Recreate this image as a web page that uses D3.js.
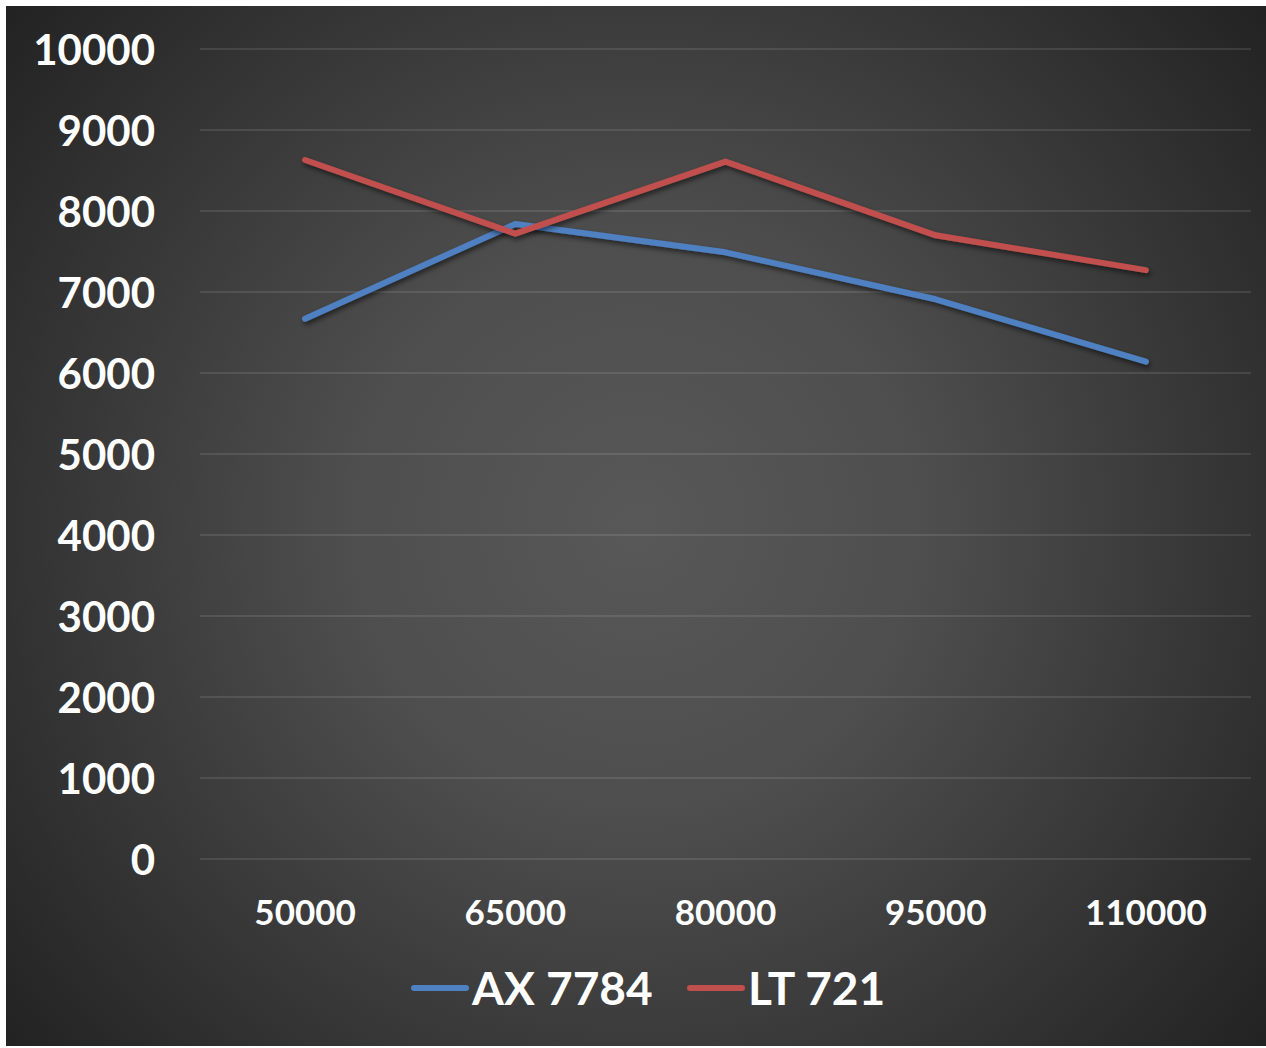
<!DOCTYPE html>
<html>
<head>
<meta charset="utf-8">
<script src="https://cdn.jsdelivr.net/npm/d3@7"></script>
<style>
  html, body { margin: 0; padding: 0; background: #ffffff; }
  svg { display: block; }
  text { font-family: Lato, "Open Sans", sans-serif; font-weight: 700; fill: #ffffff; }
</style>
</head>
<body>
<svg id="chart" width="1266" height="1048"></svg>
<script>
// Categories along the x axis
const categories = ["50000", "65000", "80000", "95000", "110000"];
// Series values
const seriesNames = ["AX 7784", "LT 721"];
const ax7784 = [6670, 7840, 7490, 6910, 6140];
const lt721 = [8630, 7720, 8610, 7700, 7270];
const seriesColors = ["#4f81c2", "#c0504d"];
// Y tick values
const yTicks = [0, 1000, 2000, 3000, 4000, 5000, 6000, 7000, 8000, 9000, 10000];

const svg = d3.select("#chart");
const W = 1266, H = 1048;

const defs = svg.append("defs");
const grad = defs.append("radialGradient")
  .attr("id", "bg")
  .attr("gradientUnits", "userSpaceOnUse")
  .attr("cx", 636).attr("cy", 526).attr("r", 820);
grad.append("stop").attr("offset", "0").attr("stop-color", "#585858");
grad.append("stop").attr("offset", "0.35").attr("stop-color", "#4e4e4e");
grad.append("stop").attr("offset", "1").attr("stop-color", "#222222");

const shadow = defs.append("filter").attr("id", "shadow")
  .attr("x", "-10%").attr("y", "-10%").attr("width", "120%").attr("height", "140%");
shadow.append("feDropShadow")
  .attr("dx", 1.5).attr("dy", 3).attr("stdDeviation", 2.5)
  .attr("flood-color", "#000").attr("flood-opacity", 0.55);

// Chart area
svg.append("rect").attr("x", 6).attr("y", 6).attr("width", W - 6).attr("height", H - 8)
  .attr("fill", "url(#bg)");

const x = d3.scaleBand().domain(categories).range([200, 1251]);
const y = d3.scaleLinear().domain([0, 10000]).range([859, 49]);

// Gridlines
svg.append("g").selectAll("line").data(yTicks).join("line")
  .attr("x1", 200).attr("x2", 1251)
  .attr("y1", d => y(d)).attr("y2", d => y(d))
  .attr("stroke", "#ffffff").attr("stroke-opacity", 0.1).attr("stroke-width", 2);

// Y axis labels
const yAxis = d3.axisLeft(y).tickValues(yTicks).tickSize(0).tickPadding(0).tickFormat(d3.format("d"));
const gy = svg.append("g").attr("transform", "translate(155,0)").call(yAxis);
gy.select(".domain").remove();
gy.selectAll("text").attr("font-size", 42).attr("fill", "#ffffff")
  .attr("font-family", "Lato").attr("dy", "0.36em");

// X axis labels
const xAxis = d3.axisBottom(x).tickSize(0).tickPadding(0);
const gx = svg.append("g").attr("transform", "translate(0,925)").call(xAxis);
gx.select(".domain").remove();
gx.selectAll("text").attr("font-size", 35).attr("fill", "#ffffff")
  .attr("font-family", "Lato").attr("dy", 0).attr("y", 0);

// Lines
const line = d3.line()
  .x((d, i) => x(categories[i]) + x.bandwidth() / 2)
  .y(d => y(d));
[ax7784, lt721].forEach((vals, k) => {
  svg.append("path").datum(vals)
    .attr("d", line)
    .attr("fill", "none")
    .attr("stroke", seriesColors[k])
    .attr("stroke-width", 6)
    .attr("stroke-linecap", "round")
    .attr("stroke-linejoin", "round")
    .attr("filter", "url(#shadow)");
});

// Legend
const legendItems = [
  { name: seriesNames[0], color: seriesColors[0], x: 414 },
  { name: seriesNames[1], color: seriesColors[1], x: 690 }
];
const lg = svg.append("g");
legendItems.forEach(it => {
  lg.append("line")
    .attr("x1", it.x).attr("x2", it.x + 52)
    .attr("y1", 988).attr("y2", 988)
    .attr("stroke", it.color).attr("stroke-width", 6).attr("stroke-linecap", "round");
  lg.append("text").attr("x", it.x + 58).attr("y", 1005)
    .attr("font-size", 46).text(it.name);
});
</script>
</body>
</html>
